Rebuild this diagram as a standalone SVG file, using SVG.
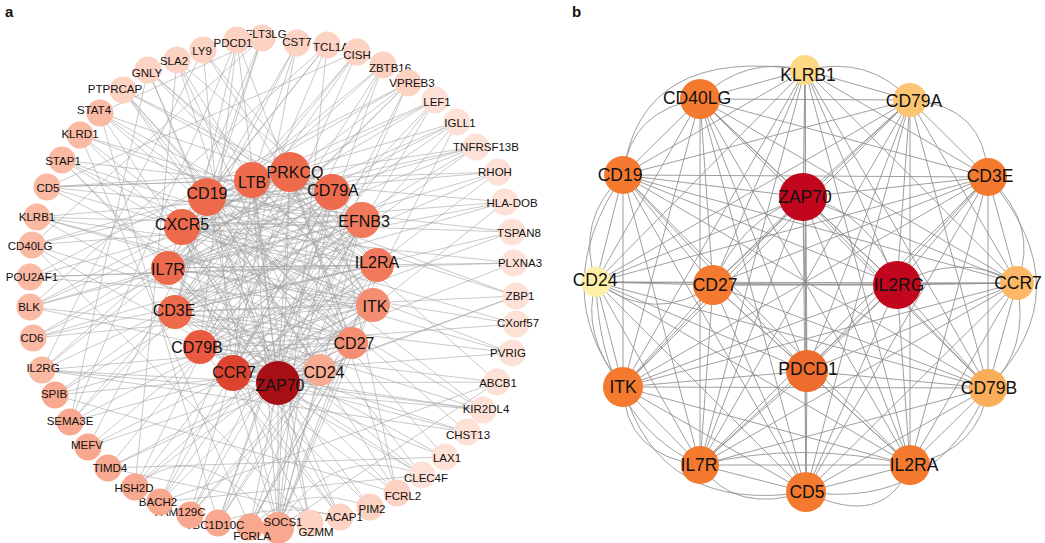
<svg xmlns="http://www.w3.org/2000/svg" width="1045" height="543" viewBox="0 0 1045 543">
<style>
text{font-family:"Liberation Sans",Arial,sans-serif;fill:#111;text-anchor:middle}
.ts{font-size:11.5px}
.tm{font-size:16px}
.tb{font-size:17.5px}
.pl{font-size:15px;font-weight:bold;text-anchor:start}
.ea{fill:none;stroke:#a3a3a3;stroke-width:0.7;stroke-opacity:0.85}
.eb{fill:none;stroke:#8e8e8e;stroke-width:1;stroke-opacity:0.85}
.p1{fill:#fde1d6}.p2{fill:#fcd2c2}.p3{fill:#f9b9a3}.p4{fill:#f8a88e}
.i1{fill:#ee6a4d}.i2{fill:#f17a5e}.i3{fill:#f48e72}.i4{fill:#f8ab92}.i5{fill:#e95a40}.i6{fill:#dc4430}.i7{fill:#a70f15}
.o1{fill:#f47a30}.o2{fill:#ee6c2e}.o3{fill:#c2061e}.y1{fill:#fdd885}.y2{fill:#fdc571}.y3{fill:#fcb866}.y4{fill:#fbae5a}.y5{fill:#fef0a6}
</style>
<rect width="1045" height="543" fill="#fff"/>
<text class="pl" x="5" y="17">a</text>
<text class="pl" x="572" y="17">b</text>
<g id="edges">
<path class="ea" d="M262 38L207 197M262 38L182 227M262 38L175 312M262 38L32 245M297 43L168 268M297 43L233 373M297 43L252 180M327 45L207 197M327 45L200 347M327 45L182 227M327 45L30 307M357 52L168 268M357 52L175 312M357 52L252 180M357 52L47 187M383 65L182 227M383 65L200 347M383 65L233 373M383 65L42 370M408 83L168 268M408 83L175 312M408 83L207 197M408 83L278 383M408 83L70 422M435 100L182 227M435 100L200 347M435 100L252 180M435 100L190 515M457 122L207 197M457 122L168 268M457 122L175 312M457 122L233 373M476 147L182 227M476 147L168 268M476 147L200 347M476 147L252 180M476 147L32 245M498 172L207 197M498 172L175 312M498 172L233 373M498 172L47 187M505 202L182 227M505 202L168 268M505 202L278 383M505 202L252 180M512 232L207 197M512 232L175 312M512 232L200 347M514 263L168 268M514 263L182 227M514 263L233 373M516 296L175 312M516 296L207 197M516 296L278 383M516 324L200 347M516 324L168 268M512 353L175 312M512 353L233 373M512 353L182 227M497 382L278 383M497 382L200 347M497 382L278 528M483 410L233 373M483 410L175 312M483 410L207 197M483 410L278 383M467 432L278 383M467 432L200 347M467 432L42 370M445 457L233 373M445 457L175 312M422 475L278 383M422 475L200 347M422 475L168 268M397 493L233 373M397 493L290 172M397 493L332 192M397 493L207 197M370 507L278 383M370 507L175 312M340 517L233 373M340 517L200 347M340 517L182 227M310 523L278 383M310 523L233 373M310 523L252 180"/>
<path class="ea" d="M278 528L252 180M278 528L290 172M278 528L207 197M278 528L332 192M278 528L182 227M278 528L362 220M278 528L377 265M278 528L373 305M278 528L352 343M278 528L278 383M278 528L320 370M250 527L278 383M250 527L352 343M250 527L373 305M250 527L362 220M218 523L332 192M218 523L362 220M218 523L377 265M218 523L320 370M190 515L290 172M190 515L373 305M190 515L352 343M160 502L332 192M160 502L362 220M160 502L278 383M160 502L497 382M135 487L377 265M135 487L373 305M135 487L290 172M108 468L352 343M108 468L320 370M108 468L332 192M108 468L445 457M88 447L362 220M88 447L278 383M88 447L373 305M70 422L290 172M70 422L377 265M70 422L352 343M55 395L332 192M55 395L373 305M55 395L320 370M55 395L397 493M42 370L362 220M42 370L352 343M42 370L278 383M42 370L290 172M33 338L377 265M33 338L332 192M33 338L373 305M30 307L290 172M30 307L362 220M30 307L352 343M30 307L320 370M30 277L332 192M30 277L377 265M30 277L373 305M30 277L408 83M32 245L290 172M32 245L362 220M32 245L352 343M32 245L278 383M37 217L332 192M37 217L377 265M37 217L373 305M37 217L320 370M47 187L290 172M47 187L362 220M47 187L352 343M47 187L252 180M62 160L332 192M62 160L377 265M62 160L278 383M62 160L373 305M80 135L362 220M80 135L352 343M80 135L320 370M100 113L377 265M100 113L373 305M100 113L278 383M100 113L332 192M123 90L352 343M123 90L320 370M123 90L362 220M123 90L290 172M148 70L373 305M148 70L278 383M148 70L377 265M177 60L352 343M177 60L320 370M177 60L362 220M177 60L278 383M203 50L377 265M203 50L373 305M203 50L233 373M237 40L352 343M237 40L278 383M237 40L200 347M237 40L175 312"/>
<path class="ea" d="M80 135L250 527M123 90L422 475M177 60L135 487M297 43L88 447M357 52L160 502M62 160L397 493M100 113L467 432M37 217L512 353M30 277L514 263M33 338L505 202M55 395L476 147M148 70L70 422M262 38L100 113M327 45L278 528M383 65L218 523M435 100L135 487M498 172L30 307M512 232L37 217M47 187L516 324M42 370L483 410M340 517L108 468M160 502L422 475M250 527L457 122M310 523L32 245M408 83L190 515M203 50L42 370M237 40L70 422M516 296L80 135M445 457L123 90M497 382L148 70M370 507Q300 480 250 527M340 517Q280 500 218 523M135 487Q200 430 278 528M516 296Q400 340 278 383M422 475Q330 440 278 528M62 160L483 410M100 113L218 523M148 70L340 517M30 307L457 122M33 338L435 100"/>
<path class="ea" d="M252 180L290 172M252 180L207 197M252 180L332 192M252 180L182 227M252 180L168 268M252 180L175 312M252 180L200 347M252 180L233 373M252 180L278 383M252 180L373 305M290 172L207 197M290 172L332 192M290 172L182 227M290 172L362 220M290 172L377 265M290 172L373 305M290 172L352 343M290 172L278 383M290 172L175 312M207 197L332 192M207 197L182 227M207 197L362 220M207 197L377 265M207 197L175 312M207 197L352 343M207 197L278 383M207 197L320 370M332 192L182 227M332 192L362 220M332 192L168 268M332 192L175 312M332 192L200 347M332 192L233 373M332 192L278 383M182 227L362 220M182 227L168 268M182 227L377 265M182 227L373 305M182 227L278 383M362 220L168 268M362 220L175 312M362 220L200 347M362 220L233 373M362 220L278 383M168 268L377 265M168 268L373 305M168 268L352 343M168 268L278 383M377 265L175 312M377 265L200 347M377 265L233 373M377 265L278 383M175 312L373 305M175 312L352 343M175 312L278 383M175 312L320 370M373 305L200 347M373 305L233 373M373 305L278 383M200 347L352 343M200 347L278 383M352 343L233 373M352 343L278 383M233 373L278 383M233 373L320 370M278 383L320 370"/>
<path class="eb" d="M805 70L700 99M805 70L910 100M805 70L623 175M805 70L988 177M805 70L803 197M805 70L596 282M805 70L713 285M805 70L897 285M805 70L1017 283M805 70L623 387M805 70L807 371M805 70L988 388M805 70L700 465M805 70L806 492M805 70L910 465M700 99L910 100M700 99L623 175M700 99L988 177M700 99L803 197M700 99L596 282M700 99L713 285M700 99L897 285M700 99L1017 283M700 99L623 387M700 99L807 371M700 99L988 388M700 99L700 465M700 99L806 492M700 99L910 465M910 100L623 175M910 100L988 177M910 100L803 197M910 100L596 282M910 100L713 285M910 100L897 285M910 100L1017 283M910 100L623 387M910 100L807 371M910 100L988 388M910 100L700 465M910 100L806 492M910 100L910 465M623 175L988 177M623 175L803 197M623 175L596 282M623 175L713 285M623 175L897 285M623 175L1017 283M623 175L623 387M623 175L807 371M623 175L988 388M623 175L700 465M623 175L806 492M623 175L910 465M988 177L803 197M988 177L596 282M988 177L713 285M988 177L897 285M988 177L1017 283M988 177L623 387M988 177L807 371M988 177L988 388M988 177L700 465M988 177L806 492M988 177L910 465M803 197L596 282M803 197L713 285M803 197L897 285M803 197L1017 283M803 197L623 387M803 197L807 371M803 197L988 388M803 197L700 465M803 197L806 492M803 197L910 465M596 282L713 285M596 282L897 285M596 282L1017 283M596 282L623 387M596 282L807 371M596 282L988 388M596 282L700 465M596 282L806 492M596 282L910 465M713 285L897 285M713 285L1017 283M713 285L623 387M713 285L807 371M713 285L988 388M713 285L700 465M713 285L806 492M713 285L910 465M897 285L1017 283M897 285L623 387M897 285L807 371M897 285L988 388M897 285L700 465M897 285L806 492M897 285L910 465M1017 283L623 387M1017 283L807 371M1017 283L988 388M1017 283L700 465M1017 283L806 492M1017 283L910 465M623 387L807 371M623 387L988 388M623 387L700 465M623 387L806 492M623 387L910 465M807 371L988 388M807 371L700 465M807 371L806 492M807 371L910 465M988 388L700 465M988 388L806 492M988 388L910 465M700 465L806 492M700 465L910 465M806 492L910 465"/>
<path class="eb" d="M623 175Q640 45 805 70M700 99Q745 55 805 70M805 70Q870 55 910 100M910 100Q985 105 988 177M988 177Q1040 225 1017 283M988 177Q1085 290 988 388M1017 283Q1030 350 988 388M988 388Q980 450 910 465M910 465Q885 530 806 492M806 492Q735 515 700 465M700 465Q625 455 623 387M623 387Q580 335 596 282M596 282Q575 220 623 175M623 175Q630 110 700 99M623 175Q545 290 623 387M623 387Q660 515 806 492M806 492Q935 510 988 388M596 282Q655 325 713 285M803 197Q870 210 897 285M897 285Q960 250 1017 283M713 285Q740 220 803 197M700 465Q800 440 910 465M596 282Q600 420 700 465"/>
</g>
<g id="a-FLT3LG"><circle class="p2" cx="262" cy="38" r="13.5"/><text class="ts" x="266" y="38">FLT3LG</text></g>
<g id="a-CST7"><circle class="p2" cx="297" cy="43" r="13.5"/><text class="ts" x="297" y="46">CST7</text></g>
<g id="a-TCL1A"><circle class="p2" cx="327" cy="45" r="13.5"/><text class="ts" x="331" y="51">TCL1A</text></g>
<g id="a-CISH"><circle class="p2" cx="357" cy="52" r="13.5"/><text class="ts" x="357" y="59">CISH</text></g>
<g id="a-ZBTB16"><circle class="p2" cx="383" cy="65" r="13.5"/><text class="ts" x="390" y="72">ZBTB16</text></g>
<g id="a-VPREB3"><circle class="p2" cx="408" cy="83" r="13.5"/><text class="ts" x="412" y="87">VPREB3</text></g>
<g id="a-LEF1"><circle class="p1" cx="435" cy="100" r="13.5"/><text class="ts" x="437" y="106">LEF1</text></g>
<g id="a-IGLL1"><circle class="p1" cx="457" cy="122" r="13.5"/><text class="ts" x="460" y="127">IGLL1</text></g>
<g id="a-TNFRSF13B"><circle class="p1" cx="476" cy="147" r="13.5"/><text class="ts" x="486" y="151">TNFRSF13B</text></g>
<g id="a-RHOH"><circle class="p1" cx="498" cy="172" r="13.5"/><text class="ts" x="495" y="176">RHOH</text></g>
<g id="a-HLA-DOB"><circle class="p1" cx="505" cy="202" r="13.5"/><text class="ts" x="512" y="207">HLA-DOB</text></g>
<g id="a-TSPAN8"><circle class="p1" cx="512" cy="232" r="13.5"/><text class="ts" x="519" y="237">TSPAN8</text></g>
<g id="a-PLXNA3"><circle class="p1" cx="514" cy="263" r="13.5"/><text class="ts" x="520" y="267">PLXNA3</text></g>
<g id="a-ZBP1"><circle class="p1" cx="516" cy="296" r="13.5"/><text class="ts" x="520" y="300">ZBP1</text></g>
<g id="a-CXorf57"><circle class="p1" cx="516" cy="324" r="13.5"/><text class="ts" x="518" y="327">CXorf57</text></g>
<g id="a-PVRIG"><circle class="p1" cx="512" cy="353" r="13.5"/><text class="ts" x="508" y="357">PVRIG</text></g>
<g id="a-ABCB1"><circle class="p1" cx="497" cy="382" r="13.5"/><text class="ts" x="498" y="387">ABCB1</text></g>
<g id="a-KIR2DL4"><circle class="p1" cx="483" cy="410" r="13.5"/><text class="ts" x="486" y="413">KIR2DL4</text></g>
<g id="a-CHST13"><circle class="p1" cx="467" cy="432" r="13.5"/><text class="ts" x="468" y="439">CHST13</text></g>
<g id="a-LAX1"><circle class="p1" cx="445" cy="457" r="13.5"/><text class="ts" x="447" y="462">LAX1</text></g>
<g id="a-CLEC4F"><circle class="p1" cx="422" cy="475" r="13.5"/><text class="ts" x="426" y="482">CLEC4F</text></g>
<g id="a-FCRL2"><circle class="p2" cx="397" cy="493" r="13.5"/><text class="ts" x="403" y="500">FCRL2</text></g>
<g id="a-PIM2"><circle class="p2" cx="370" cy="507" r="13.5"/><text class="ts" x="372" y="513">PIM2</text></g>
<g id="a-ACAP1"><circle class="p2" cx="340" cy="517" r="13.5"/><text class="ts" x="344" y="521">ACAP1</text></g>
<g id="a-GZMM"><circle class="p2" cx="310" cy="523" r="13.5"/><text class="ts" x="316" y="536">GZMM</text></g>
<g id="a-SOCS1"><circle class="p4" cx="278" cy="528" r="16"/><text class="ts" x="283" y="526">SOCS1</text></g>
<g id="a-FCRLA"><circle class="p4" cx="250" cy="527" r="13.5"/><text class="ts" x="252" y="540">FCRLA</text></g>
<g id="a-TBC1D10C"><circle class="p4" cx="218" cy="523" r="13.5"/><text class="ts" x="215" y="529">TBC1D10C</text></g>
<g id="a-FAM129C"><circle class="p4" cx="190" cy="515" r="13.5"/><text class="ts" x="180" y="516">FAM129C</text></g>
<g id="a-BACH2"><circle class="p4" cx="160" cy="502" r="13.5"/><text class="ts" x="158" y="506">BACH2</text></g>
<g id="a-HSH2D"><circle class="p4" cx="135" cy="487" r="13.5"/><text class="ts" x="134" y="492">HSH2D</text></g>
<g id="a-TIMD4"><circle class="p4" cx="108" cy="468" r="13.5"/><text class="ts" x="110" y="472">TIMD4</text></g>
<g id="a-MEFV"><circle class="p4" cx="88" cy="447" r="13.5"/><text class="ts" x="87" y="449">MEFV</text></g>
<g id="a-SEMA3E"><circle class="p4" cx="70" cy="422" r="13.5"/><text class="ts" x="70" y="425">SEMA3E</text></g>
<g id="a-SPIB"><circle class="p4" cx="55" cy="395" r="13.5"/><text class="ts" x="54" y="398">SPIB</text></g>
<g id="a-IL2RG"><circle class="p3" cx="42" cy="370" r="13.5"/><text class="ts" x="43" y="372">IL2RG</text></g>
<g id="a-CD6"><circle class="p3" cx="33" cy="338" r="13.5"/><text class="ts" x="32" y="342">CD6</text></g>
<g id="a-BLK"><circle class="p3" cx="30" cy="307" r="13.5"/><text class="ts" x="29" y="311">BLK</text></g>
<g id="a-POU2AF1"><circle class="p3" cx="30" cy="277" r="13.5"/><text class="ts" x="32" y="281">POU2AF1</text></g>
<g id="a-CD40LG"><circle class="p3" cx="32" cy="245" r="13.5"/><text class="ts" x="30" y="250">CD40LG</text></g>
<g id="a-KLRB1"><circle class="p3" cx="37" cy="217" r="13.5"/><text class="ts" x="37" y="221">KLRB1</text></g>
<g id="a-CD5"><circle class="p3" cx="47" cy="187" r="13.5"/><text class="ts" x="48" y="192">CD5</text></g>
<g id="a-STAP1"><circle class="p3" cx="62" cy="160" r="13.5"/><text class="ts" x="63" y="165">STAP1</text></g>
<g id="a-KLRD1"><circle class="p3" cx="80" cy="135" r="13.5"/><text class="ts" x="80" y="138">KLRD1</text></g>
<g id="a-STAT4"><circle class="p3" cx="100" cy="113" r="13.5"/><text class="ts" x="94" y="114">STAT4</text></g>
<g id="a-PTPRCAP"><circle class="p2" cx="123" cy="90" r="13.5"/><text class="ts" x="115" y="93">PTPRCAP</text></g>
<g id="a-GNLY"><circle class="p2" cx="148" cy="70" r="13.5"/><text class="ts" x="147" y="77">GNLY</text></g>
<g id="a-SLA2"><circle class="p2" cx="177" cy="60" r="13.5"/><text class="ts" x="174" y="65">SLA2</text></g>
<g id="a-LY9"><circle class="p2" cx="203" cy="50" r="13.5"/><text class="ts" x="202" y="55">LY9</text></g>
<g id="a-PDCD1"><circle class="p2" cx="237" cy="40" r="13.5"/><text class="ts" x="233" y="47">PDCD1</text></g>
<g id="a-LTB"><circle class="i1" cx="252" cy="180" r="18"/><text class="tm" x="252" y="188">LTB</text></g>
<g id="a-PRKCQ"><circle class="i1" cx="290" cy="172" r="20"/><text class="tm" x="295" y="178">PRKCQ</text></g>
<g id="a-CD19"><circle class="i1" cx="207" cy="197" r="19"/><text class="tm" x="207" y="199">CD19</text></g>
<g id="a-CD79A"><circle class="i1" cx="332" cy="192" r="18"/><text class="tm" x="333" y="196">CD79A</text></g>
<g id="a-CXCR5"><circle class="i1" cx="182" cy="227" r="18"/><text class="tm" x="182" y="230">CXCR5</text></g>
<g id="a-EFNB3"><circle class="i2" cx="362" cy="220" r="18"/><text class="tm" x="364" y="227">EFNB3</text></g>
<g id="a-IL7R"><circle class="i1" cx="168" cy="268" r="17"/><text class="tm" x="168" y="275">IL7R</text></g>
<g id="a-IL2RA"><circle class="i2" cx="377" cy="265" r="17"/><text class="tm" x="377" y="268">IL2RA</text></g>
<g id="a-CD3E"><circle class="i1" cx="175" cy="312" r="17"/><text class="tm" x="174" y="316">CD3E</text></g>
<g id="a-ITK"><circle class="i3" cx="373" cy="305" r="17"/><text class="tm" x="375" y="312">ITK</text></g>
<g id="a-CD79B"><circle class="i5" cx="200" cy="347" r="17"/><text class="tm" x="197" y="353">CD79B</text></g>
<g id="a-CD27"><circle class="i3" cx="352" cy="343" r="16"/><text class="tm" x="354" y="349">CD27</text></g>
<g id="a-CCR7"><circle class="i6" cx="233" cy="373" r="18"/><text class="tm" x="234" y="378">CCR7</text></g>
<g id="a-ZAP70"><circle class="i7" cx="278" cy="383" r="22"/><text class="tm" x="280" y="391">ZAP70</text></g>
<g id="a-CD24"><circle class="i4" cx="320" cy="370" r="16"/><text class="tm" x="324" y="378">CD24</text></g>
<g id="b-KLRB1"><circle class="y1" cx="805" cy="70" r="15"/><text class="tb" x="808" y="81">KLRB1</text></g>
<g id="b-CD40LG"><circle class="o1" cx="700" cy="99" r="20"/><text class="tb" x="697" y="104">CD40LG</text></g>
<g id="b-CD79A"><circle class="y2" cx="910" cy="100" r="17"/><text class="tb" x="914" y="107">CD79A</text></g>
<g id="b-CD19"><circle class="o1" cx="623" cy="175" r="19"/><text class="tb" x="620" y="181">CD19</text></g>
<g id="b-CD3E"><circle class="o1" cx="988" cy="177" r="19"/><text class="tb" x="990" y="182">CD3E</text></g>
<g id="b-ZAP70"><circle class="o3" cx="803" cy="197" r="24"/><text class="tb" x="805" y="203">ZAP70</text></g>
<g id="b-CD24"><circle class="y5" cx="596" cy="282" r="15"/><text class="tb" x="595" y="286">CD24</text></g>
<g id="b-CD27"><circle class="o1" cx="713" cy="285" r="20"/><text class="tb" x="715" y="291">CD27</text></g>
<g id="b-IL2RG"><circle class="o3" cx="897" cy="285" r="24"/><text class="tb" x="899" y="291">IL2RG</text></g>
<g id="b-CCR7"><circle class="y3" cx="1017" cy="283" r="17"/><text class="tb" x="1018" y="289">CCR7</text></g>
<g id="b-ITK"><circle class="o1" cx="623" cy="387" r="20"/><text class="tb" x="623" y="393">ITK</text></g>
<g id="b-PDCD1"><circle class="o2" cx="807" cy="371" r="21"/><text class="tb" x="808" y="375">PDCD1</text></g>
<g id="b-CD79B"><circle class="y4" cx="988" cy="388" r="19"/><text class="tb" x="989" y="394">CD79B</text></g>
<g id="b-IL7R"><circle class="o1" cx="700" cy="465" r="19"/><text class="tb" x="699" y="471">IL7R</text></g>
<g id="b-CD5"><circle class="o1" cx="806" cy="492" r="20"/><text class="tb" x="807" y="498">CD5</text></g>
<g id="b-IL2RA"><circle class="o1" cx="910" cy="465" r="20"/><text class="tb" x="914" y="471">IL2RA</text></g>
</svg>
